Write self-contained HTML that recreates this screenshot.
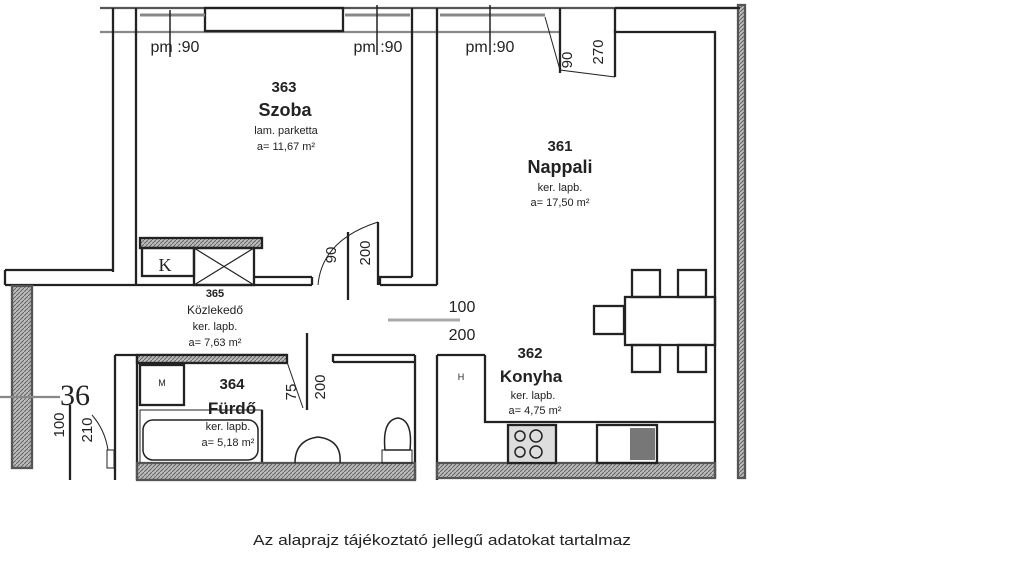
<!DOCTYPE html>
<html><head><meta charset="utf-8"><style>
body{margin:0;background:#fff;width:1024px;height:576px;overflow:hidden}
svg{display:block}
text{font-family:"Liberation Sans",sans-serif;fill:#222}
</style></head><body>
<svg width="1024" height="576" viewBox="0 0 1024 576">
<defs>
<pattern id="h" width="4" height="4" patternUnits="userSpaceOnUse"><rect width="4" height="4" fill="#bbb"/><path d="M0 4L4 0" stroke="#666" stroke-width="1"/></pattern>
</defs>
<g fill="none" stroke="#222" stroke-width="2.3">
<line x1="100" y1="8" x2="745" y2="8" stroke="#555"/>
<line x1="100" y1="32" x2="560" y2="32" stroke="#888"/>
<rect x="205" y="8" width="138" height="23"/>
<line x1="140" y1="15" x2="205" y2="15" stroke="#888" stroke-width="3"/>
<line x1="345" y1="15" x2="410" y2="15" stroke="#888" stroke-width="3"/>
<line x1="440" y1="15" x2="545" y2="15" stroke="#888" stroke-width="3"/>
<line x1="170" y1="10" x2="170" y2="57" stroke-width="1.5"/>
<line x1="377" y1="5" x2="377" y2="55" stroke-width="1.5"/>
<line x1="490" y1="5" x2="490" y2="55" stroke-width="1.5"/>
<line x1="113" y1="8" x2="113" y2="272"/>
<line x1="136" y1="8" x2="136" y2="285"/>
<line x1="412" y1="8" x2="412" y2="277"/>
<line x1="437" y1="8" x2="437" y2="285"/>
<polyline points="380,285 380,277 412,277"/>
<line x1="380" y1="285" x2="437" y2="285"/>
<line x1="136" y1="285" x2="312" y2="285"/>
<line x1="255" y1="277" x2="312" y2="277"/>
<line x1="312" y1="277" x2="312" y2="285"/>
<path d="M318 285 Q322 240 378 222" stroke-width="1"/>
<line x1="378" y1="222" x2="378" y2="285"/>
<line x1="348" y1="232" x2="348" y2="300"/>
<rect x="140" y="238" width="122" height="10" fill="url(#h)"/>
<rect x="142" y="248" width="52" height="28"/>
<rect x="194" y="248" width="60" height="37"/>
<path d="M194 248L254 285M254 248L194 285" stroke-width="1.2"/>
<polyline points="5,270 113,270"/>
<polyline points="5,285 136,285"/>
<line x1="5" y1="270" x2="5" y2="285"/>
<rect x="12" y="286" width="20" height="182" fill="url(#h)" stroke="#555"/>
<line x1="0" y1="397" x2="60" y2="397" stroke="#888"/>
<line x1="70" y1="405" x2="70" y2="480"/>
<path d="M92 415 Q105 430 108 450" stroke-width="1"/>
<rect x="107" y="450" width="7" height="18" stroke-width="1"/>
<polyline points="615,8 615,32 715,32 715,478"/>
<rect x="738" y="5" width="7" height="473" fill="url(#h)" stroke="#555"/>
<polyline points="615,8 740,8" />
<line x1="560" y1="8" x2="560" y2="73"/>
<line x1="615" y1="30" x2="615" y2="77"/>
<path d="M545 17 L560 70 L615 77" stroke-width="1"/>
<line x1="388" y1="320" x2="460" y2="320" stroke="#aaa" stroke-width="3"/>
<line x1="115" y1="355" x2="115" y2="480"/>
<line x1="137" y1="355" x2="137" y2="480"/>
<line x1="115" y1="355" x2="287" y2="355"/>
<rect x="137" y="355" width="150" height="8" fill="url(#h)"/>
<rect x="140" y="365" width="44" height="40"/>
<rect x="140" y="410" width="122" height="53" stroke-width="1"/>
<rect x="143" y="420" width="115" height="40" rx="10" stroke-width="1.5"/>
<line x1="262" y1="410" x2="262" y2="463"/>
<line x1="287" y1="362" x2="303" y2="408" stroke-width="1"/>
<line x1="307" y1="333" x2="307" y2="410"/>
<polyline points="333,362 333,355 415,355"/>
<polyline points="333,362 415,362"/>
<line x1="415" y1="355" x2="415" y2="480"/>
<rect x="137" y="463" width="278" height="17" fill="url(#h)" stroke="#555"/>
<path d="M295 463 Q295 440 318 437 Q342 440 340 463" stroke-width="1.5"/>
<rect x="382" y="450" width="30" height="13" stroke-width="1"/>
<path d="M385 450 Q382 420 398 418 Q413 420 410 450 Z" stroke-width="1.5"/>
<line x1="437" y1="355" x2="437" y2="480"/>
<line x1="437" y1="355" x2="485" y2="355"/>
<polyline points="485,355 485,422 715,422"/>
<rect x="437" y="463" width="278" height="15" fill="url(#h)" stroke="#555"/>
<rect x="508" y="425" width="48" height="38" fill="#ddd"/>
<circle cx="520" cy="436" r="5" stroke-width="1.5"/><circle cx="536" cy="436" r="6" stroke-width="1.5"/>
<circle cx="520" cy="452" r="5" stroke-width="1.5"/><circle cx="536" cy="452" r="6" stroke-width="1.5"/>
<rect x="597" y="425" width="60" height="38"/>
<rect x="630" y="428" width="25" height="32" fill="#777" stroke="none"/>
<rect x="625" y="297" width="90" height="48"/>
<rect x="632" y="270" width="28" height="27"/><rect x="678" y="270" width="28" height="27"/>
<rect x="632" y="345" width="28" height="27"/><rect x="678" y="345" width="28" height="27"/>
<rect x="594" y="306" width="30" height="28"/>
</g>
<g text-anchor="middle">
<text x="175" y="52" font-size="16">pm :90</text>
<text x="378" y="52" font-size="16">pm :90</text>
<text x="490" y="52" font-size="16">pm :90</text>
<text x="284" y="92" font-size="15" font-weight="bold">363</text>
<text x="285" y="116" font-size="18" font-weight="bold">Szoba</text>
<text x="286" y="134" font-size="11">lam. parketta</text>
<text x="286" y="150" font-size="11">a= 11,67 m²</text>
<text x="560" y="151" font-size="15" font-weight="bold">361</text>
<text x="560" y="173" font-size="18" font-weight="bold">Nappali</text>
<text x="560" y="191" font-size="11">ker. lapb.</text>
<text x="560" y="206" font-size="11">a= 17,50 m²</text>
<text x="215" y="297" font-size="11" font-weight="bold">365</text>
<text x="215" y="314" font-size="12">Közlekedő</text>
<text x="215" y="330" font-size="11">ker. lapb.</text>
<text x="215" y="346" font-size="11">a= 7,63 m²</text>
<text x="232" y="389" font-size="15" font-weight="bold">364</text>
<text x="232" y="414" font-size="17" font-weight="bold">Fürdő</text>
<text x="228" y="430" font-size="11">ker. lapb.</text>
<text x="228" y="446" font-size="11">a= 5,18 m²</text>
<text x="462" y="312" font-size="16">100</text>
<text x="462" y="340" font-size="16">200</text>
<text x="530" y="358" font-size="15" font-weight="bold">362</text>
<text x="531" y="382" font-size="17" font-weight="bold">Konyha</text>
<text x="533" y="399" font-size="11">ker. lapb.</text>
<text x="535" y="414" font-size="11">a= 4,75 m²</text>
<text x="165" y="271" font-size="18" style="font-family:'Liberation Serif'">K</text>
<text x="162" y="386" font-size="9">M</text>
<text x="461" y="380" font-size="9">H</text>
<text x="75" y="405" font-size="30" style="font-family:'Liberation Serif'">36</text>
</g>
<text x="253" y="545" font-size="15" textLength="378" lengthAdjust="spacingAndGlyphs">Az alaprajz tájékoztató jellegű adatokat tartalmaz</text>
<g font-size="15">
<text transform="translate(336,255) rotate(-90)" text-anchor="middle">90</text>
<text transform="translate(370,253) rotate(-90)" text-anchor="middle">200</text>
<text transform="translate(296,392) rotate(-90)" text-anchor="middle">75</text>
<text transform="translate(325,387) rotate(-90)" text-anchor="middle">200</text>
<text transform="translate(572,60) rotate(-90)" text-anchor="middle">90</text>
<text transform="translate(603,52) rotate(-90)" text-anchor="middle">270</text>
<text transform="translate(64,425) rotate(-90)" text-anchor="middle">100</text>
<text transform="translate(92,430) rotate(-90)" text-anchor="middle">210</text>
</g>
</svg>
</body></html>
